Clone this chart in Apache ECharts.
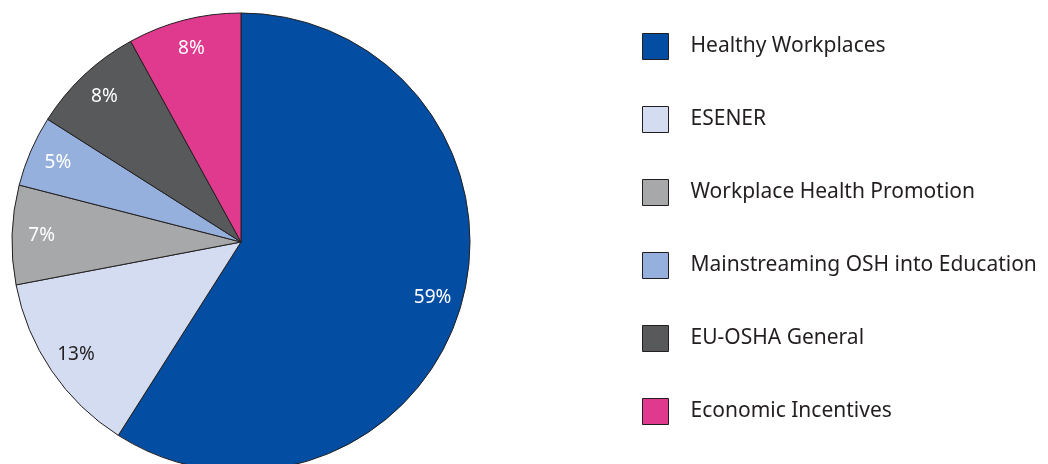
<!DOCTYPE html>
<html>
<head>
<meta charset="utf-8">
<script src="https://cdn.jsdelivr.net/npm/echarts@6/dist/echarts.min.js"></script>
<style>html,body{margin:0;padding:0;background:#fff}#c{width:1048px;height:464px}</style>
</head>
<body>
<div id="c"></div>
<script>
const categories = ['Healthy Workplaces', 'ESENER', 'Workplace Health Promotion', 'Mainstreaming OSH into Education', 'EU-OSHA General', 'Economic Incentives'];
const values = [59, 13, 7, 5, 8, 8];
const colors = ['#034EA2', '#D3DCF0', '#A7A8AA', '#95B0DC', '#58595B', '#E03A8E'];
const labelColors = ['#ffffff', '#231F20', '#ffffff', '#ffffff', '#ffffff', '#ffffff'];

const chart = echarts.init(document.getElementById('c'), null, {renderer: 'canvas'});
const font = '"Noto Sans", sans-serif';
const fillData = categories.map((n, i) => ({name: n, value: values[i], itemStyle: {color: colors[i]}}));
const labelData = categories.map((n, i) => ({name: n, value: values[i], label: {color: labelColors[i]}}));
chart.setOption({
  animation: false,
  color: colors,
  legend: {
    orient: 'vertical',
    left: 637,
    top: 28,
    itemWidth: 26,
    itemHeight: 26,
    itemGap: 46,
    icon: 'rect',
    data: categories,
    itemStyle: {borderColor: '#231F20', borderWidth: 1},
    textStyle: {fontFamily: font, fontSize: 21, lineHeight: 26, color: '#231F20', padding: [0, 0, 0, 17]},
    selectedMode: false
  },
  series: [
    {
      type: 'pie',
      center: [241, 242],
      radius: [0, 229],
      startAngle: 90,
      clockwise: true,
      silent: true,
      label: {show: false},
      labelLine: {show: false},
      itemStyle: {borderColor: '#231F20', borderWidth: 1},
      data: fillData
    },
    {
      type: 'pie',
      center: [241, 242],
      radius: [164, 229],
      startAngle: 90,
      clockwise: true,
      silent: true,
      legendHoverLink: false,
      itemStyle: {color: 'rgba(0,0,0,0)', borderWidth: 0},
      label: {show: true, position: 'inside', formatter: '{c}%', fontFamily: font, fontSize: 19},
      labelLine: {show: false},
      data: labelData
    }
  ]
});
</script>
</body>
</html>
